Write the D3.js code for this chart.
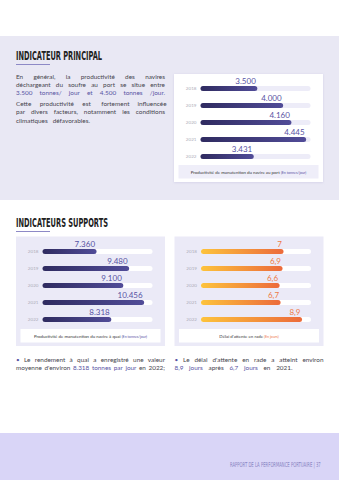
<!DOCTYPE html>
<html><head><meta charset="utf-8">
<script src="https://cdn.jsdelivr.net/npm/d3@7"></script>
<style>
html,body{margin:0;padding:0;background:#fff;}
svg{display:block;}
</style></head>
<body>
<script>
// ---- data ----
const years = ["2018","2019","2020","2021","2022"];
const portProductivity = [3500, 4000, 4160, 4445, 3431];
const portLabels = ["3.500","4.000","4.160","4.445","3.431"];
const quayProductivity = [7360, 9480, 9100, 10456, 8318];
const quayLabels = ["7.360","9.480","9.100","10.456","8.318"];
const waitDays = [7, 6.9, 6.6, 6.7, 8.9];
const waitLabels = ["7","6,9","6,6","6,7","8,9"];

const W = 339, H = 480;
const DARK = "#45444c", ACC = "#5853a3", ORANGE = "#ee7a46";
const FONT = "Lato, 'Open Sans', sans-serif";
const COND = "'DejaVu Sans Condensed', 'DejaVu Sans', sans-serif";

const svg = d3.select("body").append("svg").attr("width", W).attr("height", H);
const defs = svg.append("defs");
const gp = defs.append("linearGradient").attr("id","gPurple");
gp.append("stop").attr("offset","0%").attr("stop-color","#2f2b60");
gp.append("stop").attr("offset","100%").attr("stop-color","#514c98");
const go = defs.append("linearGradient").attr("id","gOrange");
go.append("stop").attr("offset","0%").attr("stop-color","#fdc33c");
go.append("stop").attr("offset","100%").attr("stop-color","#ec6a3b");
const sh = defs.append("filter").attr("id","shadow").attr("x","-10%").attr("y","-10%").attr("width","120%").attr("height","130%");
sh.append("feDropShadow").attr("dx",0).attr("dy",0.5).attr("stdDeviation",0.8).attr("flood-color","#b9b6d8").attr("flood-opacity",0.5);

// backgrounds
svg.append("rect").attr("x",0).attr("y",36).attr("width",W).attr("height",164).attr("fill","#e9e8f4");
svg.append("rect").attr("x",0).attr("y",433).attr("width",W).attr("height",47).attr("fill","#d9d5f7");

// titles
function title(txt, y, len){
  svg.append("text").attr("x",16).attr("y",y).text(txt)
    .attr("font-family",COND).attr("font-weight","bold").attr("font-size",11.5)
    .attr("textLength",len).attr("lengthAdjust","spacingAndGlyphs").attr("fill","#222");
  svg.append("rect").attr("x",16).attr("y",y+4.5).attr("width",34).attr("height",1).attr("fill","#8d89c6");
}
title("INDICATEUR PRINCIPAL", 59.5, 86);
title("INDICATEURS SUPPORTS", 226.5, 92);

// justified text
function para(lines, x0, width, y0, lh, size){
  lines.forEach((ln, i) => {
    const y = y0 + i*lh;
    const t = svg.append("text").attr("y", y).attr("font-family",FONT).attr("font-size",size);
    let acc = false;
    const words = [];
    ln.text.split(" ").forEach(w => {
      let c = acc;
      if (w.startsWith("[")) { acc = true; c = true; w = w.slice(1); }
      if (w.endsWith("]")) { w = w.slice(0,-1); acc = false; }
      words.push({w, c});
    });
    const spans = words.map(d => t.append("tspan").text(d.w).attr("fill", d.c ? ACC : DARK));
    const lens = spans.map(s => s.node().getComputedTextLength());
    const total = d3.sum(lens);
    const target = ln.width || width;
    const gap = ln.justify ? (target - total)/(words.length-1) : size*0.3*(ln.sp||1);
    let x = x0;
    spans.forEach((s,k) => { s.attr("x", x); x += lens[k] + gap; });
  });
}
para([
  {text:"En général, la productivité des navires", justify:true},
  {text:"déchargeant du soufre au port se situe entre", justify:true},
  {text:"[3.500 tonnes/ jour et 4.500 tonnes /jour.]", justify:true}
], 16, 149, 78.5, 8.4, 6.4);
para([
  {text:"Cette productivité est fortement influencée", justify:true},
  {text:"par divers facteurs, notamment les conditions", justify:true},
  {text:"climatiques défavorables.", justify:false, sp:2.6}
], 16, 149, 106, 8.4, 6.4);

para([
  {text:"[•] Le rendement à quai a enregistré une valeur", justify:true},
  {text:"moyenne d'environ [8.318 tonnes par jour] en 2022;", justify:true}
], 16, 149, 362, 8.4, 6.4);
para([
  {text:"[•] Le délai d'attente en rade a atteint environ", justify:true},
  {text:"[8,9 jours] après [6,7 jours] en 2021.", justify:true, width:118}
], 174.5, 149, 362, 8.4, 6.4);

// chart builder
function chart(o){
  const g = svg.append("g");
  g.append("rect").attr("x",o.cx).attr("y",o.cy).attr("width",149).attr("height",o.ch)
    .attr("fill",o.cardFill).attr("filter", o.shadow ? "url(#shadow)" : null);
  const x = d3.scaleLinear().domain(o.domain).range([o.cx+26.5, o.cx+136.5]);
  const y = d3.scalePoint().domain(years).range([o.cy+o.top, o.cy+o.top+68]);
  const bh = 5;
  g.selectAll(".trk").data(years).join("rect")
    .attr("x", x.range()[0]).attr("y", d => y(d)-bh/2)
    .attr("width", x.range()[1]-x.range()[0]).attr("height", bh)
    .attr("rx", bh/2).attr("fill", o.track);
  g.selectAll(".bar").data(o.values).join("rect")
    .attr("x", x.range()[0]).attr("y", (d,i) => y(years[i])-bh/2)
    .attr("width", d => x(d)-x.range()[0]).attr("height", bh)
    .attr("rx", bh/2).attr("fill", o.grad);
  g.selectAll(".yr").data(years).join("text")
    .attr("x", x.range()[0]-4).attr("y", d => y(d)+1.6).text(d => d)
    .attr("text-anchor","end").attr("font-family",FONT).attr("font-size",4.6).attr("fill","#aeadb8");
  g.selectAll(".val").data(o.values).join("text")
    .attr("x", d => x(d)-1.5).attr("y", (d,i) => y(years[i])-4.2).text((d,i) => o.labels[i])
    .attr("text-anchor","end").attr("font-family",FONT).attr("font-size",8).attr("fill",o.labelColor);
  const ly = o.cy + o.ch - o.legBottom - 13.5;
  g.append("rect").attr("x",o.cx+4.5).attr("y",ly).attr("width",140).attr("height",13.5).attr("fill",o.legFill);
  const t = g.append("text").attr("x",o.cx+74.5).attr("y",ly+8.6).attr("text-anchor","middle")
    .attr("font-family",FONT).attr("font-size",4.4);
  t.append("tspan").text(o.legend+" ").attr("fill","#333");
  t.append("tspan").text(o.unit).attr("fill",o.unitColor).attr("font-size",3.6);
}
chart({cx:174, cy:74, ch:108, top:14.5, cardFill:"#fff", shadow:true, track:"#edecf8",
  grad:"url(#gPurple)", domain:[2400,4530], values:portProductivity, labels:portLabels, labelColor:ACC,
  legFill:"#efeef9", legBottom:3.5, legend:"Productivité de manutention du navire au port", unit:"(En tonnes/jour)", unitColor:ACC});
chart({cx:16, cy:236.5, ch:109.5, top:15, cardFill:"#ebeaf7", shadow:false, track:"#fff",
  grad:"url(#gPurple)", domain:[3845,11000], values:quayProductivity, labels:quayLabels, labelColor:ACC,
  legFill:"#fff", legBottom:3.5, legend:"Productivité de manutention du navire à quai", unit:"(En tonnes/jour)", unitColor:ACC});
chart({cx:174.5, cy:236.5, ch:109.5, top:15, cardFill:"#ebeaf7", shadow:false, track:"#fff",
  grad:"url(#gOrange)", domain:[-1.46,9.82], values:waitDays, labels:waitLabels, labelColor:ORANGE,
  legFill:"#fff", legBottom:3.5, legend:"Délai d'attente en rade", unit:"(En jours)", unitColor:ORANGE});

// footer (horizontally condensed to the reference width)
const ft = svg.append("text").attr("x",0).attr("y",0).text("RAPPORT DE LA PERFORMANCE PORTUAIRE | 37")
  .attr("font-family",COND).attr("font-size",6.8).attr("fill","#8a85c4");
const fl = ft.node().getComputedTextLength();
ft.attr("transform", `translate(230,466.5) scale(${91/fl},1)`);
</script>
</body></html>
